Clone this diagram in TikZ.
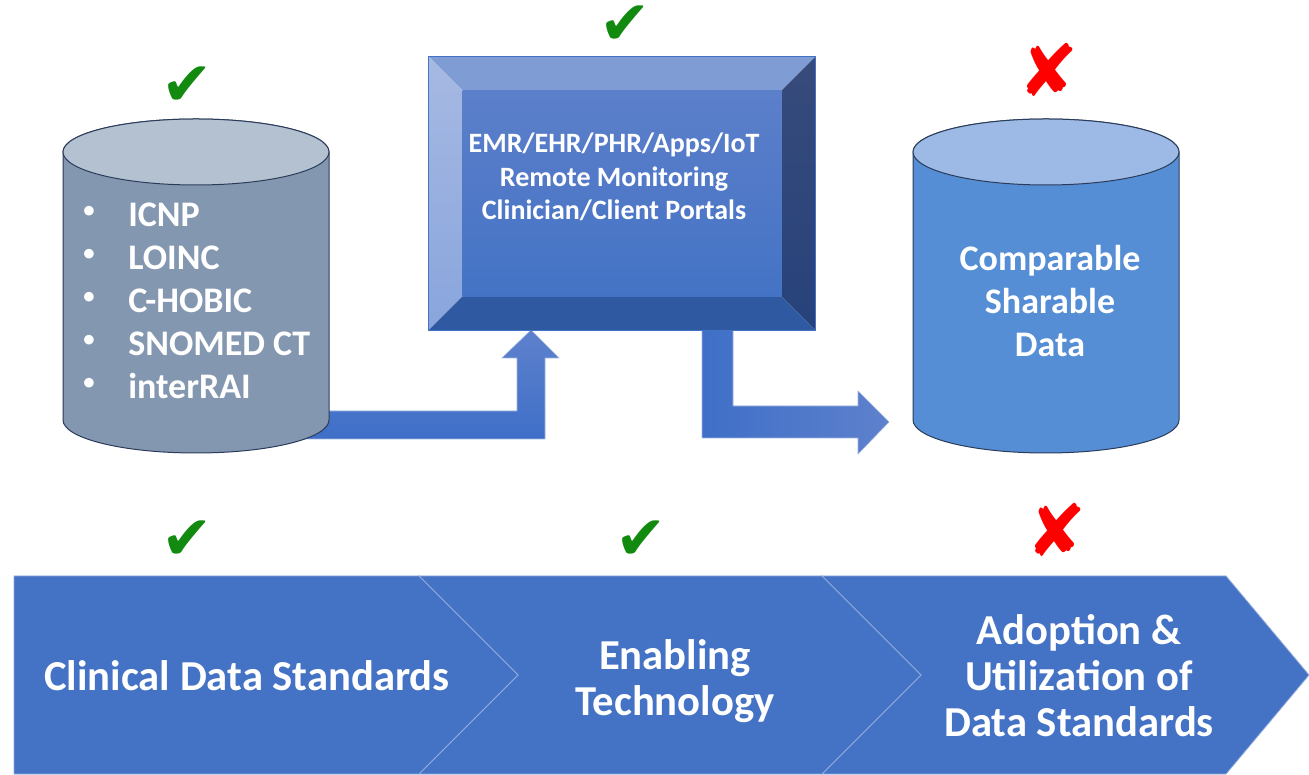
\documentclass[tikz,border=0pt]{standalone}
\usepackage{fontspec}
\setmainfont{Carlito}
\newfontfamily\symbolfont{DejaVu Sans}
\usepackage{tikz}
\definecolor{chevblue}{HTML}{4472C4}
\definecolor{chevline}{HTML}{8FAADC}
\definecolor{stdbody}{HTML}{8497B0}
\definecolor{stdtop}{HTML}{B4C1D1}
\definecolor{databody}{HTML}{558ED5}
\definecolor{datatop}{HTML}{9CBAE5}
\definecolor{rimline}{HTML}{2B3C5A}
\definecolor{arrowlight}{HTML}{5E81CC}
\definecolor{arrowdark}{HTML}{3F6FC8}
\definecolor{bevtop}{HTML}{7F9CD4}
\definecolor{bevlefttop}{HTML}{A6B9E2}
\definecolor{bevleftbot}{HTML}{89A5DD}
\definecolor{bevrighttop}{HTML}{374B7B}
\definecolor{bevrightbot}{HTML}{27427B}
\definecolor{bevbottom}{HTML}{2F5AA2}
\definecolor{facetop}{HTML}{5C7FCA}
\definecolor{facebot}{HTML}{4473C5}
\definecolor{okgreen}{HTML}{12890F}
\definecolor{nored}{HTML}{FF0000}

\begin{document}
\begin{tikzpicture}[x=0.75pt, y=0.75pt,
	font=\bfseries]
	\tikzstyle{every node}=[text=white, inner sep=0pt, align=center]
	\tikzstyle{rim}=[draw=rimline, line width=0.75pt]
	\tikzstyle{chev}=[fill=chevblue, draw=chevline, line width=0.6pt]
	\tikzstyle{blockarrow}=[draw=arrowlight!60!white, line width=0.4pt]
	\tikzstyle{check}=[font=\symbolfont\fontsize{46}{46}\selectfont, text=okgreen]
	\tikzstyle{cross}=[font=\symbolfont\fontsize{54}{54}\selectfont, text=nored]
	\tikzstyle{item}=[font=\bfseries\fontsize{27}{32.25}\selectfont]
	\tikzstyle{dot}=[font=\bfseries\fontsize{17}{17}\selectfont]
	\tikzstyle{boxtext}=[font=\bfseries\fontsize{21}{25.1}\selectfont]
	\tikzstyle{stage}=[font=\bfseries\fontsize{32}{34.5}\selectfont]
	\useasboundingbox (0,0) rectangle (1309,774);

	\draw[chev] (822,198) -- (1226,198) -- (1309,99) -- (1226,0) -- (822,0) -- (921,99) -- cycle;
	\draw[chev] (419,198) -- (822,198) -- (921,99) -- (822,0) -- (419,0) -- (518,99) -- cycle;
	\draw[chev] (14,198) -- (419,198) -- (518,99) -- (419,0) -- (14,0) -- cycle;
	\node[stage] (clinical) at (247,98) {Clinical Data Standards};
	\node[stage] (enabling) at (675,93) {Enabling\\Technology};
	\node[stage] (adoption) at (1079,98) {Adoption \&\\Utilization of\\Data Standards};

	\node[check] (okstd) at (187,234) {✔};
	\node[check] (oktech) at (641,234) {✔};
	\node[cross] (noadopt) at (1057,244) {✘};
	\node[check] (okdb) at (187,688) {✔};
	\node[check] (okemr) at (625,749) {✔};
	\node[cross] (noshare) at (1049,704) {✘};

	\draw[blockarrow, top color=arrowlight, bottom color=arrowdark]
		(300,335) -- (545,335) -- (545,416) -- (559,416) -- (531,444) -- (502,416)
		-- (517,416) -- (517,363) -- (300,363) -- cycle;
	\draw[blockarrow, left color=arrowdark, right color=arrowlight]
		(702,444) -- (733,444) -- (733,368) -- (858,368) -- (858,383) -- (889,352)
		-- (858,320) -- (858,336) -- (702,336) -- cycle;

	\foreach \cx/\body/\lid in {196/stdbody/stdtop, 1046/databody/datatop} {
		\draw[rim, fill=\body] (\cx-133,622) -- (\cx-133,354)
			arc[start angle=180, end angle=360, x radius=99.75pt, y radius=24.75pt]
			-- (\cx+133,622)
			arc[start angle=0, end angle=180, x radius=99.75pt, y radius=24.75pt] -- cycle;
		\draw[rim, fill=\lid] (\cx,622) ellipse[x radius=99.75pt, y radius=24.75pt];
	}
	\foreach \t [count=\i] in {ICNP,LOINC,C-HOBIC,SNOMED CT,interRAI} {
		\node[dot] (dot\i) at (89,605-43*\i) {•};
		\node[item, anchor=base west] (std\i) at (128,590-43*\i) {\t};
	}
	\node[item] (share) at (1050,473) {Comparable\\Sharable\\Data};

	\node[minimum width=289.5pt, minimum height=204.75pt] (emrbox) at (622,580.5) {};
	\fill[bevtop] (emrbox.north west) -- (emrbox.north east)
		-- ([shift={(-34,-34)}]emrbox.north east) -- ([shift={(34,-34)}]emrbox.north west) -- cycle;
	\shade[top color=bevlefttop, bottom color=bevleftbot] (emrbox.north west)
		-- ([shift={(34,-34)}]emrbox.north west) -- ([shift={(34,34)}]emrbox.south west)
		-- (emrbox.south west) -- cycle;
	\shade[top color=bevrighttop, bottom color=bevrightbot] (emrbox.north east)
		-- (emrbox.south east) -- ([shift={(-34,34)}]emrbox.south east)
		-- ([shift={(-34,-34)}]emrbox.north east) -- cycle;
	\fill[bevbottom] (emrbox.south west) -- (emrbox.south east)
		-- ([shift={(-34,34)}]emrbox.south east) -- ([shift={(34,34)}]emrbox.south west) -- cycle;
	\shade[top color=facetop, bottom color=facebot] ([shift={(34,34)}]emrbox.south west)
		rectangle ([shift={(-34,-34)}]emrbox.north east);
	\draw[chevblue, line width=0.6pt] (emrbox.south west) rectangle (emrbox.north east);
	\node[boxtext] (emrtext) at (614,597) {EMR/EHR/PHR/Apps/IoT\\Remote Monitoring\\Clinician/Client Portals};
\end{tikzpicture}
\end{document}
